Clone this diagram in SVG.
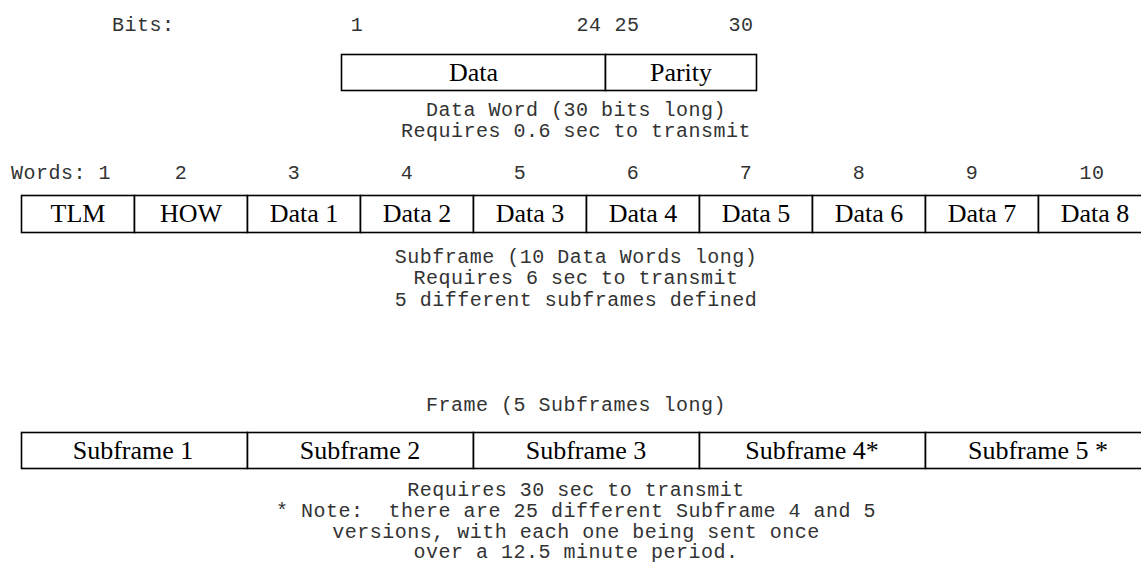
<svg xmlns="http://www.w3.org/2000/svg" width="1141" height="563" viewBox="0 0 1141 563">
  <style>
    .mono { font-family: "Liberation Mono", "Courier New", monospace; font-size: 20px; letter-spacing: 0.5px; fill: #333; white-space: pre; }
    .mid { text-anchor: middle; }
    .cell { fill: #fff; stroke: #000; stroke-width: 1.6; }
    .lbl { font-family: "Liberation Serif", "Times New Roman", serif; font-size: 26px; fill: #000; text-anchor: middle; }
  </style>
  <rect width="1141" height="563" fill="#fff"/>

  <!-- Data word: 30 bits -->
  <g id="bit-labels">
    <text class="mono" x="112" y="31">Bits:</text>
    <text class="mono mid" x="357" y="31">1</text>
    <text class="mono mid" x="589" y="31">24</text>
    <text class="mono mid" x="627" y="31">25</text>
    <text class="mono mid" x="741" y="31">30</text>
  </g>
  <g id="word-data">
    <rect class="cell" x="341.5" y="54.5" width="264" height="36"/>
    <text class="lbl" x="473.5" y="81">Data</text>
  </g>
  <g id="word-parity">
    <rect class="cell" x="605.5" y="54.5" width="151" height="36"/>
    <text class="lbl" x="681" y="81">Parity</text>
  </g>
  <g id="word-caption">
    <text class="mono mid" x="576" y="116">Data Word (30 bits long)</text>
    <text class="mono mid" x="576" y="137">Requires 0.6 sec to transmit</text>
  </g>

  <!-- Subframe: 10 data words -->
  <g id="word-numbers">
    <text class="mono" x="11" y="179">Words: 1</text>
    <text class="mono mid" x="181" y="179">2</text>
    <text class="mono mid" x="294" y="179">3</text>
    <text class="mono mid" x="407" y="179">4</text>
    <text class="mono mid" x="520" y="179">5</text>
    <text class="mono mid" x="633" y="179">6</text>
    <text class="mono mid" x="746" y="179">7</text>
    <text class="mono mid" x="859" y="179">8</text>
    <text class="mono mid" x="972" y="179">9</text>
    <text class="mono mid" x="1092" y="179">10</text>
  </g>
  <g id="w1"><rect class="cell" x="21.5" y="195.5" width="113" height="37"/><text class="lbl" x="78" y="222">TLM</text></g>
  <g id="w2"><rect class="cell" x="134.5" y="195.5" width="113" height="37"/><text class="lbl" x="191" y="222">HOW</text></g>
  <g id="w3"><rect class="cell" x="247.5" y="195.5" width="113" height="37"/><text class="lbl" x="304" y="222">Data 1</text></g>
  <g id="w4"><rect class="cell" x="360.5" y="195.5" width="113" height="37"/><text class="lbl" x="417" y="222">Data 2</text></g>
  <g id="w5"><rect class="cell" x="473.5" y="195.5" width="113" height="37"/><text class="lbl" x="530" y="222">Data 3</text></g>
  <g id="w6"><rect class="cell" x="586.5" y="195.5" width="113" height="37"/><text class="lbl" x="643" y="222">Data 4</text></g>
  <g id="w7"><rect class="cell" x="699.5" y="195.5" width="113" height="37"/><text class="lbl" x="756" y="222">Data 5</text></g>
  <g id="w8"><rect class="cell" x="812.5" y="195.5" width="113" height="37"/><text class="lbl" x="869" y="222">Data 6</text></g>
  <g id="w9"><rect class="cell" x="925.5" y="195.5" width="113" height="37"/><text class="lbl" x="982" y="222">Data 7</text></g>
  <g id="w10"><rect class="cell" x="1038.5" y="195.5" width="113" height="37"/><text class="lbl" x="1095" y="222">Data 8</text></g>
  <g id="subframe-caption">
    <text class="mono mid" x="576" y="263">Subframe (10 Data Words long)</text>
    <text class="mono mid" x="576" y="284">Requires 6 sec to transmit</text>
    <text class="mono mid" x="576" y="306">5 different subframes defined</text>
  </g>

  <!-- Frame: 5 subframes -->
  <g id="frame-title">
    <text class="mono mid" x="576" y="411">Frame (5 Subframes long)</text>
  </g>
  <g id="sf1"><rect class="cell" x="21.5" y="432.5" width="226" height="36"/><text class="lbl" x="133" y="459">Subframe 1</text></g>
  <g id="sf2"><rect class="cell" x="247.5" y="432.5" width="226" height="36"/><text class="lbl" x="360" y="459">Subframe 2</text></g>
  <g id="sf3"><rect class="cell" x="473.5" y="432.5" width="226" height="36"/><text class="lbl" x="586" y="459">Subframe 3</text></g>
  <g id="sf4"><rect class="cell" x="699.5" y="432.5" width="226" height="36"/><text class="lbl" x="812" y="459">Subframe 4*</text></g>
  <g id="sf5"><rect class="cell" x="925.5" y="432.5" width="226" height="36"/><text class="lbl" x="1038" y="459">Subframe 5 *</text></g>
  <g id="frame-caption">
    <text class="mono mid" x="576" y="496">Requires 30 sec to transmit</text>
    <text class="mono mid" x="576" y="517" xml:space="preserve">* Note:  there are 25 different Subframe 4 and 5</text>
    <text class="mono mid" x="576" y="538">versions, with each one being sent once</text>
    <text class="mono mid" x="576" y="558">over a 12.5 minute period.</text>
  </g>
  <g id="connectors"/>
</svg>
